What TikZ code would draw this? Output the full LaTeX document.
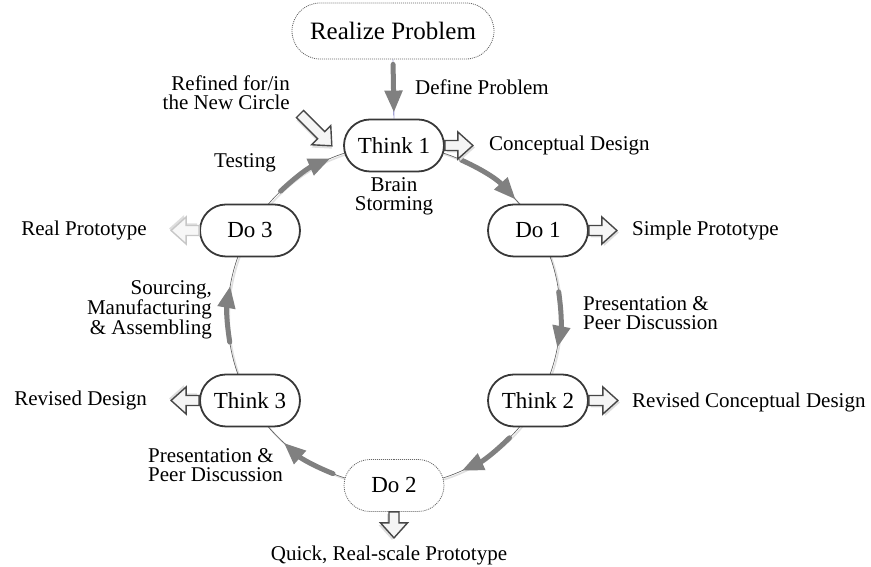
\documentclass[tikz,border=0pt]{standalone}
\usepackage{fontspec}
\setmainfont{Liberation Serif}
\usetikzlibrary{shapes.misc,arrows.meta,calc}
\begin{document}
\begin{tikzpicture}[x=1pt,y=1pt,
  pill/.style={rounded rectangle, draw=black!78, line width=1.8pt, fill=white,
    minimum width=100pt, minimum height=52pt, inner sep=0pt,
    font=\fontsize{23}{24}\selectfont},
  dotpill/.style={pill, draw=black!60, line width=0.8pt, dash pattern=on 1pt off 1pt},
  lbl/.style={inner sep=0pt, font=\fontsize{21}{19}\selectfont},
  flow/.style={draw=black!50, line width=5pt, line cap=round,
    -{Triangle[length=22pt,width=17pt]}},
  ring/.style={draw=black!65, line width=0.6pt},
  baline/.style={draw=black!72, line width=1.4pt, fill=black!4},
  pics/blockarrow/.style={code={
    \fill[black!13, shift={(2,-2)}] (0,-5) -- ({#1-15},-5) -- ({#1-15},-13.5) -- (#1,0)
       -- ({#1-15},13.5) -- ({#1-15},5) -- (0,5) -- cycle;
    \path[baline, line join=miter] (0,-5) -- ({#1-15},-5) -- ({#1-15},-13.5) -- (#1,0)
       -- ({#1-15},13.5) -- ({#1-15},5) -- (0,5) -- cycle;
  }},
  pics/blockarrow/.default=28,
]
\useasboundingbox (0,0) rectangle (871,567);

% ring
\coordinate (C) at (394,251.5);
\draw[black!12, line width=1.6pt] ($(C)+(1.5,-1.5)$) ellipse [x radius=166.3, y radius=170];
\draw[ring] (C) ellipse [x radius=166.3, y radius=170];

% nodes
\node[dotpill, minimum width=202pt, minimum height=56pt, font=\fontsize{25}{26}\selectfont]
  (realize) at (393,536) {Realize Problem};
\node[pill] (think1) at (394,421.5) {Think 1};
\node[pill] (do1) at (538,336.5) {Do 1};
\node[pill] (think2) at (538,166.5) {Think 2};
\node[dotpill] (do2) at (394,81.5) {Do 2};
\node[pill] (think3) at (250,166.5) {Think 3};
\node[pill] (do3) at (250,336.5) {Do 3};

% realize -> think1
\draw[blue!55!black, line width=0.4pt] (realize.south) -- (think1.north);
\draw[flow, shorten <=5pt, shorten >=6pt] (realize.south) -- (think1.north);

% flow arrows along the ring
\coordinate (f1s) at ($(C)+(66:166.3 and 170)$);
\coordinate (f1e) at ($(C)+(43:166.3 and 170)$);
\coordinate (f2s) at ($(C)+(8:166.3 and 170)$);
\coordinate (f2e) at ($(C)+(-11:166.3 and 170)$);
\coordinate (f3s) at ($(C)+(-46:166.3 and 170)$);
\coordinate (f3e) at ($(C)+(-66:166.3 and 170)$);
\coordinate (f4s) at ($(C)+(-111.5:166.3 and 170)$);
\coordinate (f4e) at ($(C)+(-131.5:166.3 and 170)$);
\coordinate (f5s) at ($(C)+(189:166.3 and 170)$);
\coordinate (f5e) at ($(C)+(170:166.3 and 170)$);
\coordinate (f6s) at ($(C)+(133:166.3 and 170)$);
\coordinate (f6e) at ($(C)+(112.5:166.3 and 170)$);
\draw[flow] (f1s) to[bend left=11.5] (f1e);
\draw[flow] (f2s) to[bend left=9.5] (f2e);
\draw[flow] (f3s) to[bend left=10] (f3e);
\draw[flow] (f4s) to[bend left=10] (f4e);
\draw[flow] (f5s) to[bend left=9.5] (f5e);
\draw[flow] (f6s) to[bend left=10] (f6e);

% block arrows
\pic at (think1.east) {blockarrow};
\pic at (do1.east) {blockarrow};
\pic at (think2.east) {blockarrow=29};
\pic[rotate=-90] at (do2.south) {blockarrow=26};
\pic[rotate=180] at (think3.west) {blockarrow};
\pic[rotate=180, baline/.style={draw=black!22, line width=1.4pt, fill=black!3}] at (do3.west) {blockarrow};
\coordinate (refin) at (300,453);
\pic[rotate=-45] at (refin) {blockarrow=45};

% labels
\node[lbl, anchor=west] (lDefine) at (415,480) {Define Problem};
\node[lbl, anchor=west] (lConcept) at (489,422) {Conceptual Design};
\node[lbl, align=center] (lBrain) at (394,371) {Brain\\Storming};
\node[lbl, anchor=west] (lSimple) at (632,337) {Simple Prototype};
\node[lbl, anchor=west, align=left] (lPres1) at (583,253.5) {Presentation \&\\Peer Discussion};
\node[lbl, anchor=west] (lRevConc) at (632,165) {Revised Conceptual Design};
\node[lbl] (lQuick) at (389,12) {Quick, Real-scale Prototype};
\node[lbl, anchor=west, align=left] (lPres2) at (148,102) {Presentation \&\\Peer Discussion};
\node[lbl, anchor=east] (lRevDes) at (147,167) {Revised Design};
\node[lbl, anchor=east, align=right] (lSource) at (212,257) {Sourcing,\\Manufacturing\\\& Assembling};
\node[lbl, anchor=east] (lReal) at (147,337) {Real Prototype};
\node[lbl] (lTest) at (245,404) {Testing};
\node[lbl, anchor=east, align=right] (lRefined) at (290,474) {Refined for/in\\the New Circle};
\end{tikzpicture}
\end{document}
